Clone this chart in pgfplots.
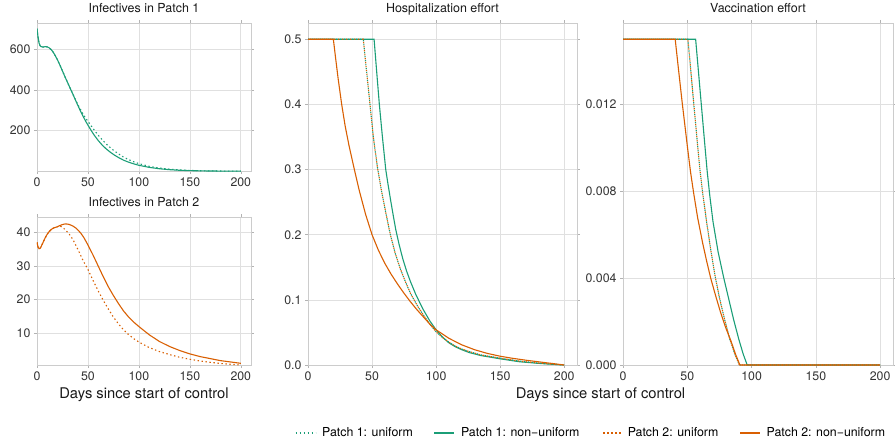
\documentclass[border=0pt]{standalone}
\usepackage{fontspec}
\setmainfont{TeX Gyre Heros}
\usepackage{pgfplots}
\pgfplotsset{compat=1.18}

\definecolor{pgreen}{HTML}{1B9E77}
\definecolor{porange}{HTML}{D95F02}
\definecolor{gridc}{HTML}{E0E0E0}
\definecolor{framec}{HTML}{CCCCCC}
\definecolor{tickc}{HTML}{B3B3B3}
\definecolor{textc}{HTML}{333333}

\pgfplotsset{
  panel/.style={
    scale only axis,
    anchor=north west,
    xmin=0, xmax=210,
    xtick={0,50,100,150,200},
    xticklabels={0,50,100,150,200},
    scaled y ticks=false,
    tick align=outside,
    major tick length=3bp,
    tick style={tickc, line width=0.5bp},
    axis line style={framec, line width=0.6bp},
    grid=major,
    major grid style={gridc, line width=0.7bp},
    ticklabel style={font=\fontsize{12.4}{14}\selectfont, text=textc},
    title style={font=\fontsize{12.5}{14}\selectfont, text=black!90,
      at={(0.5,1)}, anchor=base, yshift=4.7bp},
    xlabel style={font=\fontsize{14.8}{17}\selectfont, text=black!90,
      anchor=base, yshift=-33bp},
    legend image code/.code={\draw[##1, line width=1.3bp] (0bp,0bp) -- (20bp,0bp);},
    every axis plot/.append style={line width=1.1bp},
  },
  unif/.style={dash pattern=on 1.4bp off 2.6bp},
}

\begin{document}
\begin{tikzpicture}
\useasboundingbox (0,0) rectangle (895bp,-441bp);

% Infectives in Patch 1
\begin{axis}[panel, at={(37bp,-23bp)}, width=214bp, height=148bp,
  ymin=2, ymax=728, ytick={200,400,600}, yticklabels={200,400,600},
  title={Infectives in Patch 1}]
\addplot[pgreen, unif] coordinates {
 (0,700)(1,660)(2,630)(3,617)(4,612)(6,610)(8,612)(10,611)(12,606)(14,597)(16,584)
 (18,567)(20,548)(22,527)(24,504)(26,481)(28,458)(30,436)(32,414)(34,392)(36,371)
 (38,349)(40,329)(42,310)(44,292)(46,275)(48,259)(50,246)(53,224)(56,204)(60,178)
 (64,155)(68,134)(72,116)(76,100)(80,86)(85,70)(90,58)(95,47)(100,38)(110,25)
 (120,16.5)(130,11)(140,7.2)(150,4.8)(165,2.8)(180,1.8)(200,1.3)};
\addplot[pgreen] coordinates {
 (0,700)(1,660)(2,630)(3,617)(4,612)(6,610)(8,612)(10,611)(12,606)(14,597)(16,584)
 (18,567)(20,548)(22,527)(24,504)(26,481)(28,458)(30,436)(32,414)(34,392)(36,370)
 (38,347)(40,325)(42,303)(44,283)(46,263)(48,244)(50,227)(53,202)(56,179)(60,152)
 (64,129)(68,110)(72,94)(76,80)(80,68)(85,55)(90,45)(95,37)(100,30)(110,20)
 (120,13)(130,8.5)(140,5.5)(150,3.8)(165,2.3)(180,1.6)(200,1.2)};
\end{axis}

% Infectives in Patch 2
\begin{axis}[panel, at={(37bp,-217bp)}, width=214bp, height=148bp,
  ymin=0.6, ymax=44.5, ytick={10,20,30,40}, yticklabels={10,20,30,40},
  title={Infectives in Patch 2},
  xlabel={Days since start of control},
  xlabel style={at={(axis description cs:0.5,0)}}]
\addplot[porange, unif] coordinates {
 (0,37)(1,35.6)(2,35.1)(3,35.2)(4,35.7)(6,37)(8,38.3)(10,39.4)(12,40.2)(14,40.8)
 (16,41.2)(18,41.4)(20,41.6)(22,41.9)(24,41.6)(26,41.2)(28,40.6)(30,40)(33,38.9)
 (36,37.4)(39,35.6)(42,33.7)(45,31.7)(50,28.9)(55,25.7)(60,22.6)(65,19.8)(70,17.2)
 (75,14.8)(80,12.8)(85,11)(90,9.6)(95,8.4)(100,7.4)(110,5.8)(120,4.6)(130,3.7)
 (140,2.9)(150,2.3)(160,1.8)(170,1.4)(180,1.05)(190,0.8)(200,0.6)};
\addplot[porange] coordinates {
 (0,37)(1,35.6)(2,35.1)(3,35.2)(4,35.7)(6,37)(8,38.3)(10,39.4)(12,40.2)(14,40.8)
 (16,41.2)(18,41.4)(20,41.6)(22,41.9)(24,42.15)(26,42.35)(28,42.45)(30,42.4)
 (32,42.25)(35,41.85)(38,41.25)(40,40.7)(43,39.7)(46,38.4)(50,36.2)(55,33.2)(60,30)
 (65,26.8)(70,23.8)(75,21.2)(80,18.8)(85,16.6)(90,14.8)(95,13.3)(100,12)(110,9.6)
 (120,7.6)(130,6.1)(140,4.9)(150,3.9)(160,3.1)(170,2.5)(180,1.9)(190,1.5)(200,1.1)};
\end{axis}

% Hospitalization effort
\begin{axis}[panel, at={(308bp,-23bp)}, width=269bp, height=342bp,
  ymin=0, ymax=0.525, ytick={0,0.1,0.2,0.3,0.4,0.5},
  yticklabels={0.0,0.1,0.2,0.3,0.4,0.5},
  title={Hospitalization effort},
  xlabel={Days since start of control},
  xlabel style={at={(axis description cs:1.0874,0)}},
  legend columns=4,
  legend style={at={(axis description cs:1.052,-0.199)}, anchor=center,
    draw=none, fill=none, font=\fontsize{12.4}{14}\selectfont,
    /tikz/every odd column/.append style={column sep=4bp},
    /tikz/every even column/.append style={column sep=19bp}},
  legend cell align=left]
\addplot[pgreen, unif] coordinates {
 (0,0.5)(43.2,0.5)(45.5,0.455)(48.4,0.4)(51,0.35)(54.1,0.305)(57.3,0.268)(60.5,0.236)
 (64.3,0.2)(68,0.172)(72,0.148)(76,0.128)(80,0.11)(82.8,0.1)(86,0.089)(90,0.077)
 (95,0.063)(100,0.051)(105,0.042)(110,0.035)(115,0.029)(120,0.0245)(126,0.0205)
 (135,0.0155)(150,0.0105)(165,0.006)(180,0.003)(190,0.0014)(200,0)};
\addlegendentry{Patch 1: uniform}
\addplot[pgreen] coordinates {
 (0,0.5)(51.6,0.5)(53.5,0.453)(55.7,0.4)(58,0.352)(60.7,0.3)(62.5,0.277)(64.5,0.253)
 (66.5,0.23)(68.5,0.208)(71,0.186)(74,0.163)(77,0.144)(80,0.128)(84,0.109)(87.2,0.096)
 (90,0.085)(95,0.068)(100,0.054)(105,0.043)(110,0.034)(115,0.028)(120,0.0235)
 (126,0.019)(135,0.0145)(150,0.0095)(165,0.005)(180,0.0025)(190,0.0012)(200,0)};
\addlegendentry{Patch 1: non−uniform}
\addplot[porange, unif, dash phase=2bp] coordinates {
 (0,0.5)(43.2,0.5)(45.5,0.455)(48.4,0.4)(51,0.35)(54.1,0.305)(57.3,0.268)(60.5,0.236)
 (64.3,0.2)(68,0.172)(72,0.148)(76,0.128)(80,0.11)(82.8,0.1)(86,0.089)(90,0.077)
 (95,0.063)(100,0.051)(105,0.042)(110,0.035)(115,0.029)(120,0.0245)(126,0.0205)
 (135,0.0155)(150,0.0105)(165,0.006)(180,0.003)(190,0.0014)(200,0)};
\addlegendentry{Patch 2: uniform}
\addplot[porange] coordinates {
 (0,0.5)(19.8,0.5)(21.5,0.472)(23.5,0.44)(26.3,0.4)(29,0.367)(32,0.337)(36.2,0.3)
 (40,0.268)(45,0.231)(50,0.2)(55,0.176)(60,0.156)(65,0.139)(70,0.124)(75,0.11)
 (80,0.097)(85,0.085)(90,0.074)(95,0.063)(100,0.054)(110,0.041)(120,0.031)
 (130,0.0235)(140,0.0178)(150,0.0135)(160,0.0102)(170,0.0074)(180,0.0049)
 (190,0.0025)(200,0)};
\addlegendentry{Patch 2: non−uniform}
\end{axis}

% Vaccination effort
\begin{axis}[panel, at={(623bp,-23bp)}, width=270bp, height=342bp,
  ymin=0, ymax=0.01575, ytick={0,0.004,0.008,0.012},
  yticklabels={0.000,0.004,0.008,0.012},
  title={Vaccination effort}]
\addplot[pgreen, unif] coordinates {
 (0,0.015)(50.5,0.015)(52.8,0.0135)(55.1,0.012)(58.2,0.0100)(60,0.0089)(62,0.0079)
 (65,0.0066)(68,0.0054)(71.6,0.0041)(75,0.0031)(79,0.0021)(83,0.0012)(87,0.0005)
 (90.5,0)(200,0)};
\addplot[pgreen] coordinates {
 (0,0.015)(56.5,0.015)(58.7,0.0135)(60.9,0.012)(63.7,0.0101)(65.5,0.0089)(67.5,0.0078)
 (70,0.0066)(74,0.0052)(78.4,0.004)(82,0.0031)(86,0.0021)(90,0.0012)(93.5,0.0005)
 (96.6,0)(200,0)};
\addplot[porange, unif, dash phase=2bp] coordinates {
 (0,0.015)(50.5,0.015)(52.8,0.0135)(55.1,0.012)(58.2,0.0100)(60,0.0089)(62,0.0079)
 (65,0.0066)(68,0.0054)(71.6,0.0041)(75,0.0031)(79,0.0021)(83,0.0012)(87,0.0005)
 (90.5,0)(200,0)};
\addplot[porange] coordinates {
 (0,0.015)(40.6,0.015)(43,0.0137)(46,0.0121)(50,0.0101)(52.5,0.0089)(55,0.0079)
 (58,0.0068)(62,0.0056)(65,0.0048)(68.2,0.004)(72,0.0032)(76,0.0024)(80,0.0017)
 (84,0.0011)(87.5,0.0005)(90.9,0)(200,0)};
\end{axis}
\end{tikzpicture}
\end{document}
